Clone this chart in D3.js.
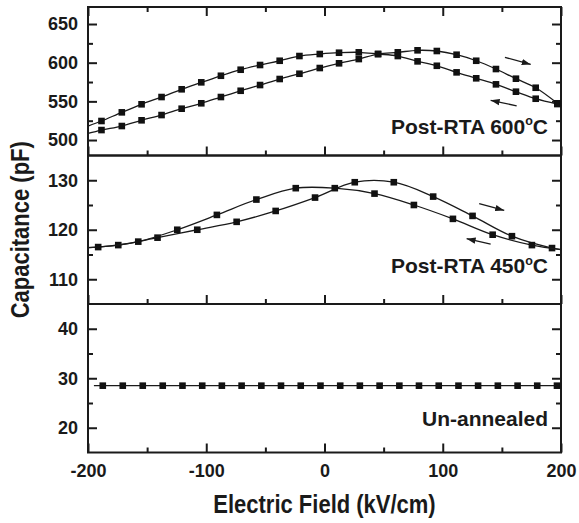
<!DOCTYPE html>
<html>
<head>
<meta charset="utf-8">
<script src="https://cdn.jsdelivr.net/npm/d3@7"></script>
<style>
body { margin: 0; background: #fff; }
svg { display: block; }
text { font-family: "Liberation Sans", Arial, sans-serif; font-weight: bold; fill: #1a1a1a; }
</style>
</head>
<body>
<div id="chart"></div>
<script>
// x axis (electric field, kV/cm)
const fieldRange = [-200, 200];
const fieldMajor = [-200, -100, 0, 100, 200];
const fieldMinor = [-150, -50, 50, 150];

// Post-RTA 600C panel
const cap600Range = [480, 672];
const cap600Major = [500, 550, 600, 650];
const cap600Minor = [525, 575, 625];
const field600 = [-188.6, -171.4, -154.7, -137.8, -120.8, -104.2, -87.6, -70.9, -54.5, -37.9, -21.2, -4.0,
                  12.3, 29.0, 45.3, 62.0, 78.7, 95.0, 111.7, 128.3, 145.0, 161.9, 178.6, 196.9];
const cap600Fwd = [512.9, 518.1, 525.5, 532.3, 540.5, 547.5, 555.6, 563.7, 571.1, 578.9, 585.7, 593.1,
                   599.2, 604.7, 611.2, 613.4, 616.0, 615.1, 610.3, 602.5, 591.8, 579.3, 567.6, 547.5];
const cap600Rev = [524.6, 535.8, 546.2, 555.6, 565.6, 574.6, 583.1, 590.9, 597.0, 602.5, 608.6, 611.2,
                   612.9, 613.4, 611.2, 608.6, 601.7, 596.0, 587.5, 579.8, 572.0, 562.5, 553.4, 546.5];
const cap600FwdStart = [-200, 508.6];
const cap600RevStart = [-200, 518.0];

// Post-RTA 450C panel
const cap450Range = [105, 135];
const cap450Major = [110, 120, 130];
const cap450Minor = [115, 125];
const field450Fwd = [-174.4, -141.2, -107.6, -74.3, -41.3, -8.0, 25.6, 58.6, 91.9, 125.2, 158.5, 192.4];
const cap450Fwd = [116.9, 118.4, 120.0, 121.6, 123.8, 126.5, 129.6, 129.6, 126.7, 122.8, 118.7, 116.3];
const field450Rev = [-191.4, -157.5, -124.5, -91.0, -57.6, -24.3, 8.7, 42.3, 75.6, 108.6, 142.2, 175.4];
const cap450Rev = [116.5, 117.6, 120.0, 123.0, 126.1, 128.4, 128.4, 127.3, 125.0, 122.2, 119.0, 116.9];
const cap450FwdStart = [-200, 116.4], cap450FwdEnd = [200, 116.0];
const cap450RevStart = [-200, 116.4], cap450RevEnd = [200, 116.0];

// Un-annealed panel
const capRawRange = [15, 45];
const capRawMajor = [20, 30, 40];
const capRawMinor = [25, 35];
const fieldRaw = [-187.5, -170.6, -153.7, -136.8, -120.1, -103.4, -86.8, -70.1, -53.4, -36.8, -20.1, -3.4,
                  13.3, 29.9, 46.6, 63.3, 79.9, 96.6, 113.3, 129.9, 146.6, 163.3, 179.9, 196.6];
const capRaw = [28.5, 28.5, 28.5, 28.5, 28.5, 28.5, 28.5, 28.5, 28.5, 28.5, 28.5, 28.5,
                28.5, 28.5, 28.5, 28.5, 28.5, 28.5, 28.5, 28.5, 28.5, 28.5, 28.5, 28.5];
const capRawStart = [-195, 28.5], capRawEnd = [200, 28.5];

// sweep direction arrows [from, to] in data units
const arrows600 = [[[152.6, 606.9], [174.4, 597.8]], [[162.5, 544.3], [140.5, 551.3]]];
const arrows450 = [[[130.8, 125.3], [152.0, 123.9]], [[140.5, 117.1], [120.2, 118.2]]];

const width = 579, height = 523;
const margin = { left: 88, top: 7 };
const plotW = 473, panelH = 148.5;

function curve(fields, caps, start, end) {
    let pts = fields.map((f, i) => ({ x: f, y: caps[i], mark: true }));
    if (start) pts.unshift({ x: start[0], y: start[1], mark: false });
    if (end) pts.push({ x: end[0], y: end[1], mark: false });
    return pts;
}

const panels = [
    { range: cap600Range, major: cap600Major, minor: cap600Minor,
      curves: [curve(field600, cap600Fwd, cap600FwdStart), curve(field600, cap600Rev, cap600RevStart)],
      arrows: arrows600, label: "Post-RTA 600", sup: "o", unit: "C", labelAt: 507.8 },
    { range: cap450Range, major: cap450Major, minor: cap450Minor,
      curves: [curve(field450Fwd, cap450Fwd, cap450FwdStart, cap450FwdEnd),
               curve(field450Rev, cap450Rev, cap450RevStart, cap450RevEnd)],
      arrows: arrows450, label: "Post-RTA 450", sup: "o", unit: "C", labelAt: 111.2 },
    { range: capRawRange, major: capRawMajor, minor: capRawMinor,
      curves: [curve(fieldRaw, capRaw, capRawStart, capRawEnd)],
      arrows: [], label: "Un-annealed", sup: "", unit: "", labelAt: 20.4 }
];

const svg = d3.select("#chart").append("svg")
    .attr("width", width)
    .attr("height", height);

svg.append("defs").append("marker")
    .attr("id", "head")
    .attr("markerUnits", "userSpaceOnUse")
    .attr("markerWidth", 10).attr("markerHeight", 8)
    .attr("refX", 9).attr("refY", 4)
    .attr("orient", "auto")
    .append("path")
    .attr("d", "M0,0.8 L9,4 L0,7.2 Z")
    .attr("fill", "#1a1a1a");

const x = d3.scaleLinear().domain(fieldRange).range([0, plotW]);

function styleAxis(g) {
    g.select(".domain").remove();
    g.selectAll(".tick line").attr("stroke", "#1a1a1a").attr("stroke-width", 2);
    g.selectAll(".tick text").style("font-size", "18px").style("font-family", "'Liberation Sans', Arial, sans-serif")
        .style("font-weight", "bold").attr("fill", "#1a1a1a");
}

panels.forEach((p, i) => {
    const g = svg.append("g")
        .attr("transform", "translate(" + margin.left + "," + (margin.top + i * panelH) + ")");
    const y = d3.scaleLinear().domain(p.range).range([panelH, 0]);
    const last = i == panels.length - 1;

    // Y ticks, left and right, pointing inward
    g.append("g").call(d3.axisLeft(y).tickValues(p.minor).tickSize(-5).tickFormat("")).call(styleAxis);
    g.append("g").call(d3.axisLeft(y).tickValues(p.major).tickSize(-9).tickPadding(10)).call(styleAxis);
    g.append("g").attr("transform", "translate(" + plotW + ",0)")
        .call(d3.axisRight(y).tickValues(p.minor).tickSize(-5).tickFormat("")).call(styleAxis);
    g.append("g").attr("transform", "translate(" + plotW + ",0)")
        .call(d3.axisRight(y).tickValues(p.major).tickSize(-9).tickFormat("")).call(styleAxis);

    // X ticks at the bottom of every panel
    g.append("g").attr("transform", "translate(0," + panelH + ")")
        .call(d3.axisBottom(x).tickValues(fieldMinor).tickSize(-5).tickFormat("")).call(styleAxis);
    let xb = d3.axisBottom(x).tickValues(fieldMajor).tickSize(-9).tickPadding(12)
        .tickFormat(d => String(d)); // plain hyphen for negatives
    if (!last) xb.tickFormat("");
    g.append("g").attr("transform", "translate(0," + panelH + ")").call(xb).call(styleAxis);

    if (i == 0) {
        g.append("g").call(d3.axisTop(x).tickValues(fieldMinor).tickSize(-5).tickFormat("")).call(styleAxis);
        g.append("g").call(d3.axisTop(x).tickValues(fieldMajor).tickSize(-9).tickFormat("")).call(styleAxis);
    }

    // frame
    g.append("rect")
        .attr("width", plotW).attr("height", panelH)
        .attr("fill", "none").attr("stroke", "#1a1a1a").attr("stroke-width", 2);

    // curves
    p.curves.forEach(c => {
        g.append("path")
            .datum(c)
            .attr("fill", "none")
            .attr("stroke", "#1a1a1a")
            .attr("stroke-width", 1.3)
            .attr("d", d3.line()
                .curve(d3.curveCatmullRom)
                .x(d => x(d.x))
                .y(d => y(d.y)));
        g.selectAll(null)
            .data(c.filter(d => d.mark))
            .enter().append("rect")
            .attr("x", d => x(d.x) - 3.3)
            .attr("y", d => y(d.y) - 3.3)
            .attr("width", 6.6).attr("height", 6.6)
            .attr("fill", "#111");
    });

    // sweep arrows
    p.arrows.forEach(a => {
        g.append("line")
            .attr("x1", x(a[0][0])).attr("y1", y(a[0][1]))
            .attr("x2", x(a[1][0])).attr("y2", y(a[1][1]))
            .attr("stroke", "#1a1a1a").attr("stroke-width", 1.3)
            .attr("marker-end", "url(#head)");
    });

    // panel label
    const t = g.append("text")
        .attr("x", plotW - 13)
        .attr("y", y(p.labelAt))
        .attr("text-anchor", "end")
        .style("font-size", "21px")
        .text(p.label);
    if (p.sup) {
        t.append("tspan").attr("dy", -8.5).style("font-size", "12.5px").text(p.sup);
        t.append("tspan").attr("dy", 8.5).text(p.unit);
    }
});

// axis titles (tall, slightly condensed lettering)
svg.append("text")
    .attr("transform", "translate(" + (margin.left + plotW / 2) + ",513) scale(0.88,1)")
    .attr("text-anchor", "middle")
    .style("font-size", "25px")
    .text("Electric Field (kV/cm)");

svg.append("text")
    .attr("transform", "translate(28.5," + (margin.top + 1.5 * panelH) + ") rotate(-90) scale(0.88,1)")
    .attr("text-anchor", "middle")
    .style("font-size", "25px")
    .text("Capacitance (pF)");
</script>
</body>
</html>
